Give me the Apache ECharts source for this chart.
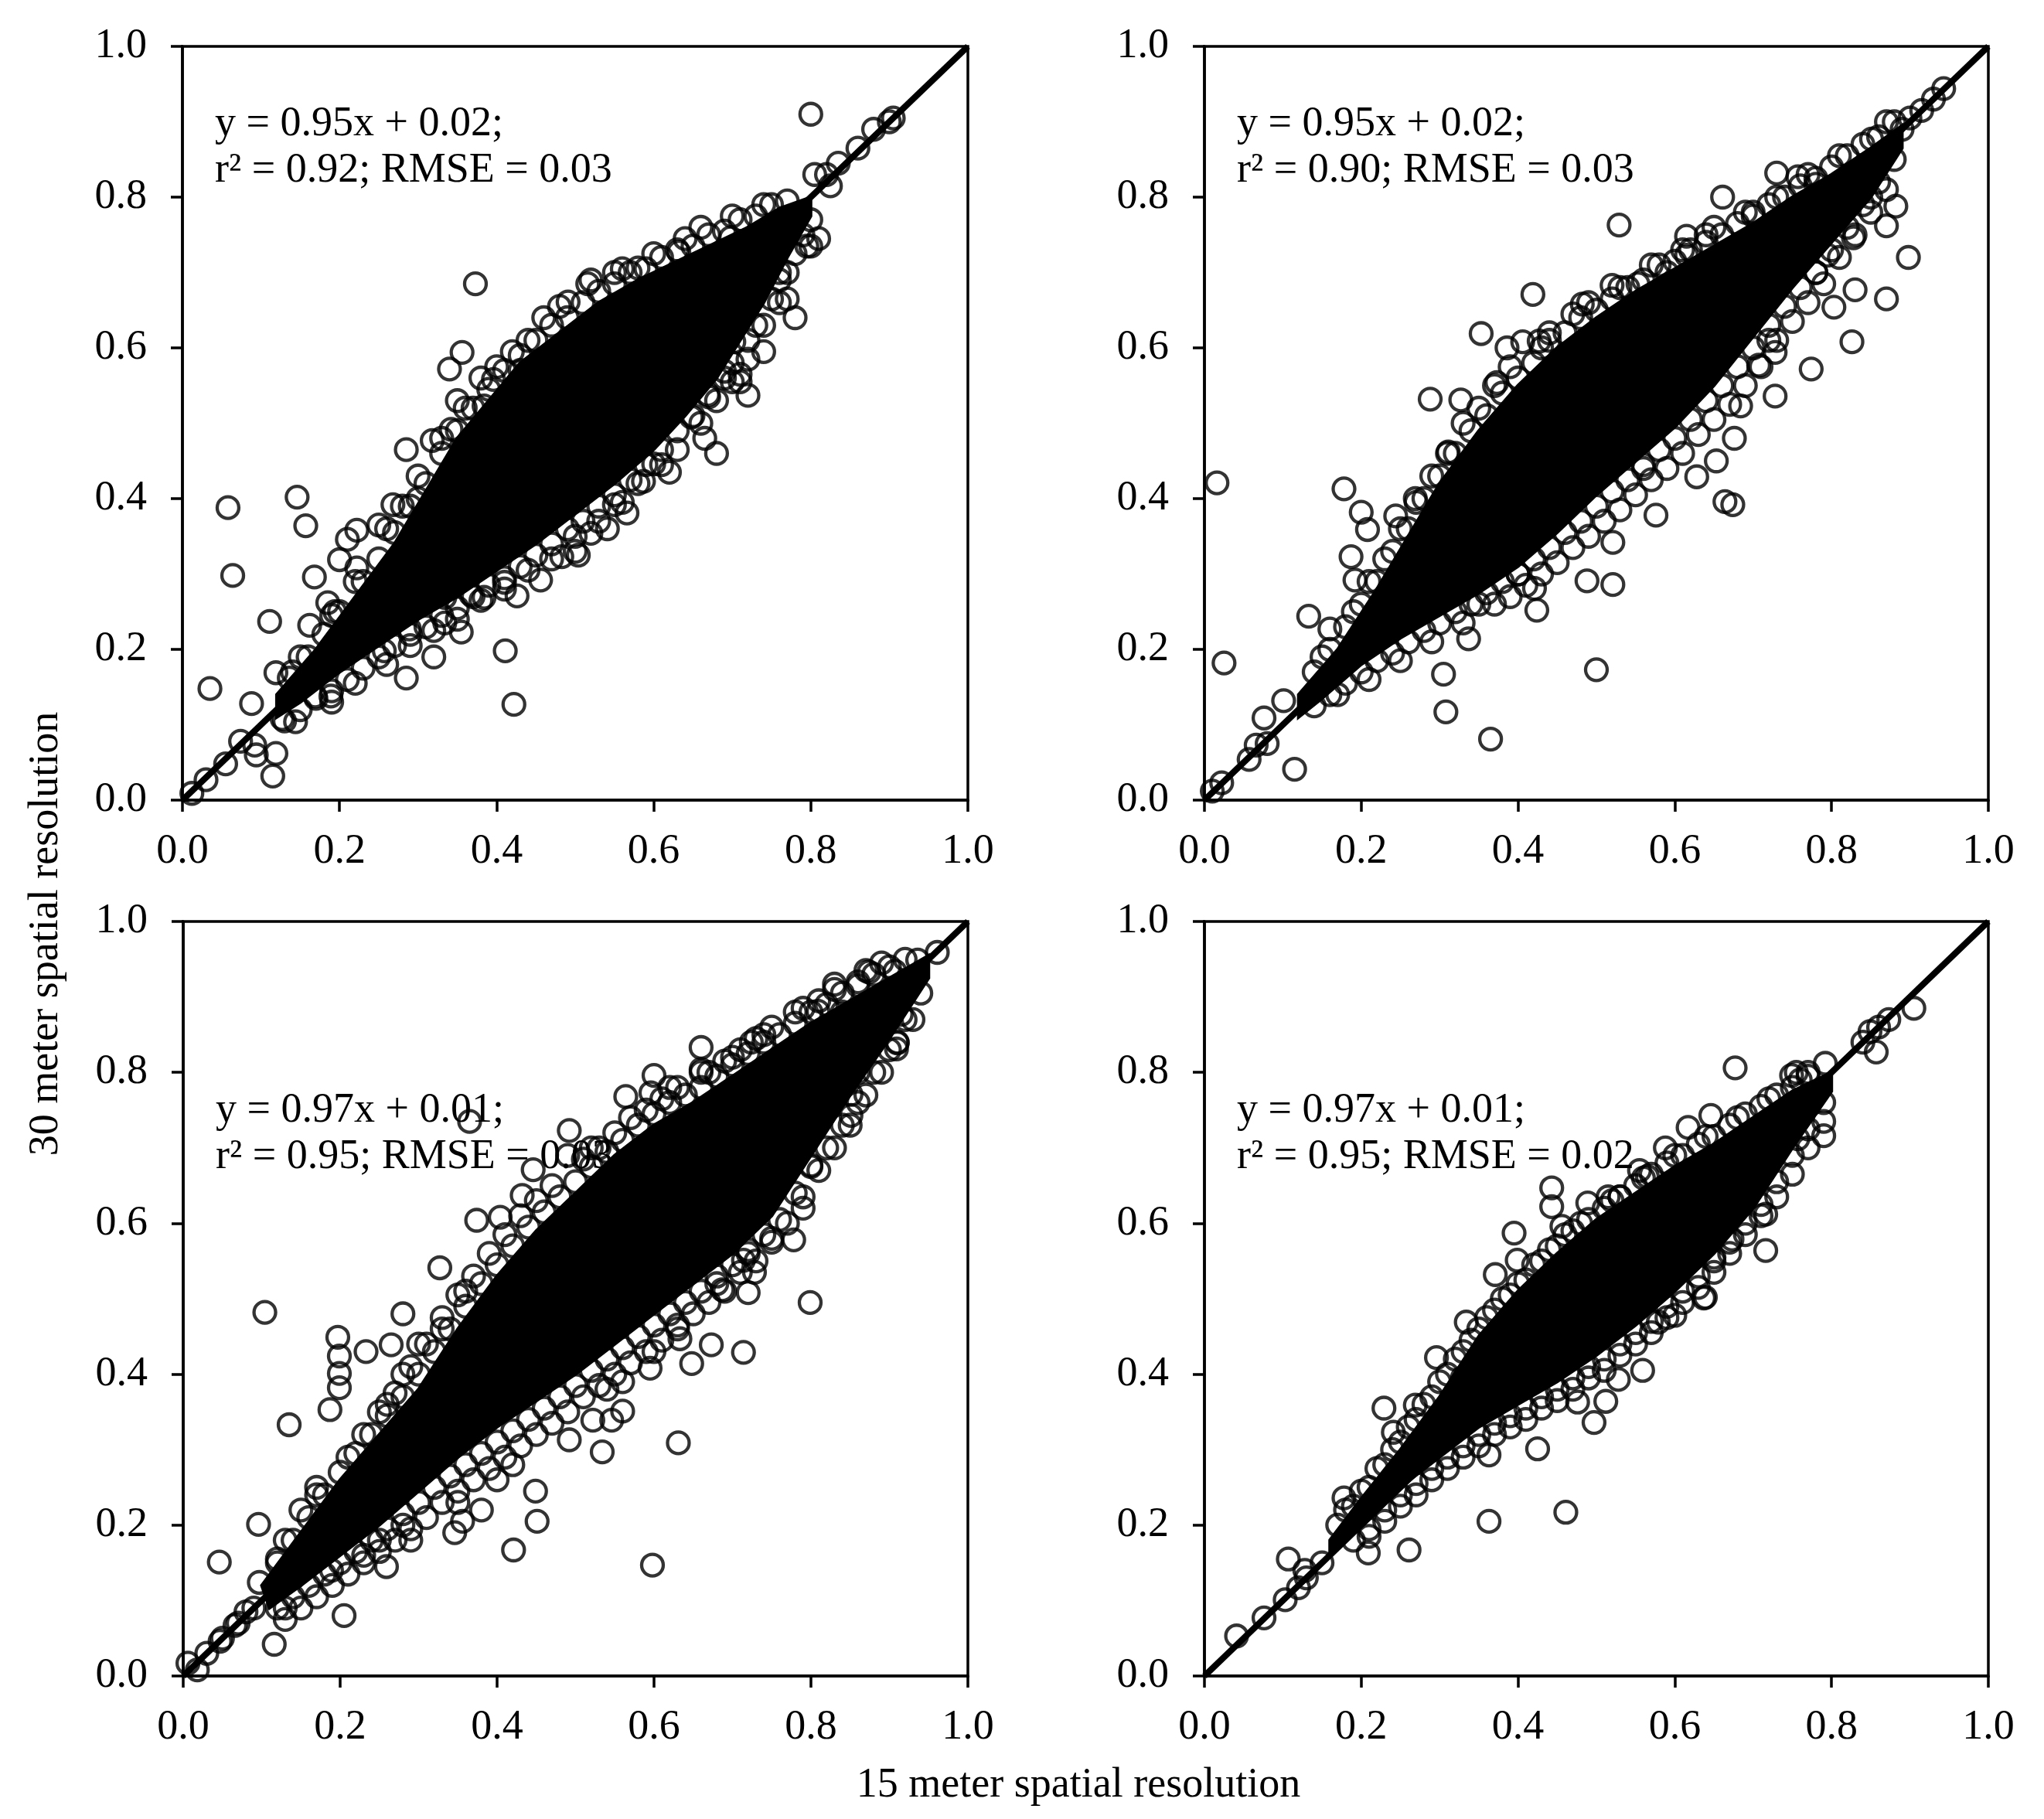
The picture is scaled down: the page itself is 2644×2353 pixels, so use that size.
<!DOCTYPE html>
<html lang="en">
<head>
<meta charset="UTF-8">
<title>15 m vs 30 m spatial resolution</title>
<script src="https://cdn.jsdelivr.net/npm/echarts@6/dist/echarts.min.js"></script>
<style>
  html, body { margin: 0; padding: 0; background: #fff; }
  #main { width: 2644px; height: 2353px; }
</style>
</head>
<body>
<div id="main"></div>
<script>
// axis ticks (same on every panel)
var tickValues = [0, 0.2, 0.4, 0.6, 0.8, 1.0];
var oneToOne = [[0, 0], [1, 1]];

// regression text per panel
var eqText = ['y = 0.95x + 0.02;', 'y = 0.95x + 0.02;', 'y = 0.97x + 0.01;', 'y = 0.97x + 0.01;'];
var r2Text = ['0.92', '0.90', '0.95', '0.95'];
var rmseText = ['0.03', '0.03', '0.03', '0.02'];

// solid (overplotted) core of each cloud, outline
var p1Core = [[0.12,0.14],[0.17,0.2],[0.22,0.27],[0.27,0.34],[0.31,0.41],[0.35,0.48],[0.39,0.53],[0.43,0.58],[0.48,0.62],[0.53,0.66],[0.58,0.69],[0.63,0.715],[0.68,0.74],[0.72,0.76],[0.76,0.785],[0.80,0.80],
  [0.80,0.775],[0.77,0.72],[0.74,0.66],[0.71,0.61],[0.68,0.56],[0.64,0.51],[0.60,0.465],[0.55,0.42],[0.50,0.38],[0.45,0.34],[0.40,0.305],[0.35,0.27],[0.30,0.24],[0.25,0.205],[0.20,0.17],[0.15,0.13],[0.12,0.11]];
var p2Core = [[0.12,0.14],[0.17,0.2],[0.22,0.28],[0.26,0.35],[0.30,0.42],[0.35,0.49],[0.40,0.55],[0.45,0.60],[0.50,0.64],[0.55,0.675],[0.60,0.705],[0.65,0.735],[0.70,0.765],[0.75,0.80],[0.80,0.83],[0.85,0.865],[0.89,0.895],
  [0.89,0.865],[0.85,0.80],[0.80,0.74],[0.75,0.68],[0.70,0.615],[0.65,0.55],[0.60,0.495],[0.55,0.45],[0.50,0.405],[0.45,0.355],[0.40,0.31],[0.35,0.275],[0.30,0.245],[0.25,0.215],[0.20,0.18],[0.15,0.135],[0.12,0.11]];
var p3Core = [[0.10,0.12],[0.15,0.19],[0.20,0.26],[0.25,0.32],[0.30,0.38],[0.35,0.46],[0.40,0.53],[0.45,0.59],[0.50,0.64],[0.55,0.69],[0.60,0.73],[0.65,0.76],[0.70,0.795],[0.75,0.83],[0.80,0.865],[0.85,0.895],[0.90,0.925],[0.95,0.955],
  [0.95,0.925],[0.90,0.845],[0.85,0.77],[0.80,0.69],[0.75,0.61],[0.70,0.56],[0.65,0.52],[0.60,0.48],[0.55,0.44],[0.50,0.40],[0.45,0.365],[0.40,0.33],[0.35,0.29],[0.30,0.245],[0.25,0.2],[0.20,0.16],[0.15,0.12],[0.11,0.09]];
var p4Core = [[0.16,0.18],[0.20,0.235],[0.25,0.30],[0.30,0.37],[0.35,0.45],[0.40,0.51],[0.45,0.56],[0.50,0.605],[0.55,0.64],[0.60,0.675],[0.65,0.705],[0.70,0.74],[0.75,0.775],[0.80,0.80],
  [0.80,0.775],[0.75,0.70],[0.70,0.62],[0.65,0.56],[0.60,0.51],[0.55,0.465],[0.50,0.425],[0.45,0.39],[0.40,0.36],[0.35,0.33],[0.30,0.29],[0.25,0.25],[0.20,0.2],[0.16,0.165]];

// individual circles: outliers
var p1Points = [[0.80,0.91],[0.90,0.90],[0.88,0.89],[0.905,0.905],[0.86,0.865],[0.835,0.845],[0.82,0.83],[0.805,0.83],[0.825,0.815],[0.81,0.745],[0.795,0.735],[0.80,0.77],[0.76,0.70],[0.77,0.665],[0.78,0.64],[0.74,0.595],[0.71,0.565],[0.71,0.555],[0.72,0.537],[0.68,0.46],[0.665,0.48],
  [0.373,0.685],[0.356,0.594],[0.34,0.572],[0.42,0.595],[0.285,0.465],[0.058,0.388],[0.146,0.402],[0.157,0.364],[0.064,0.298],[0.168,0.296],[0.111,0.237],[0.162,0.232],[0.035,0.148],[0.088,0.128],[0.119,0.062],[0.115,0.032],
  [0.012,0.009],[0.03,0.027],[0.055,0.048],[0.074,0.078],[0.094,0.06],[0.092,0.073],[0.411,0.198],[0.422,0.127],[0.285,0.162],[0.32,0.19],[0.257,0.198],[0.334,0.235],[0.355,0.223],[0.289,0.227],[0.456,0.292],[0.426,0.271],[0.41,0.289],
  [0.566,0.381],[0.541,0.36],[0.504,0.325],[0.62,0.435],[0.587,0.423],[0.632,0.727],[0.58,0.706],[0.55,0.70],[0.516,0.685],[0.491,0.661],[0.698,0.746],[0.50,0.33],
  [0.21,0.346],[0.222,0.358],[0.25,0.365],[0.268,0.392],[0.30,0.40],[0.2,0.319],[0.222,0.308],[0.185,0.262],[0.194,0.25],[0.318,0.477],[0.342,0.492],[0.35,0.53],[0.396,0.558],[0.43,0.57],[0.384,0.523],
  [0.127,0.108],[0.144,0.104],[0.189,0.138],[0.169,0.138],[0.119,0.169],[0.136,0.162],
  [0.384,0.269],[0.367,0.273],[0.334,0.269],[0.483,0.323],[0.52,0.354],[0.55,0.392],[0.6,0.446],[0.648,0.508],[0.669,0.538],[0.69,0.569],[0.702,0.608]];
var p2Points = [[0.943,0.944],[0.87,0.90],[0.90,0.905],[0.915,0.915],[0.89,0.89],[0.851,0.877],[0.93,0.93],[0.73,0.832],[0.757,0.827],[0.78,0.817],[0.661,0.80],[0.529,0.763],[0.882,0.788],[0.87,0.762],[0.898,0.72],[0.87,0.665],[0.83,0.677],[0.803,0.654],[0.826,0.608],[0.774,0.572],[0.728,0.536],[0.728,0.594],[0.828,0.746],[0.795,0.723],
  [0.615,0.748],[0.615,0.723],[0.419,0.671],[0.353,0.619],[0.288,0.532],[0.327,0.531],[0.016,0.421],[0.178,0.413],[0.2,0.382],[0.208,0.359],[0.187,0.323],[0.192,0.292],[0.133,0.244],[0.16,0.227],[0.025,0.182],[0.101,0.132],[0.076,0.109],[0.115,0.041],[0.057,0.054],[0.01,0.012],[0.022,0.023],[0.066,0.073],[0.08,0.075],
  [0.305,0.167],[0.308,0.117],[0.365,0.081],[0.5,0.173],[0.337,0.214],[0.424,0.252],[0.421,0.281],[0.488,0.291],[0.521,0.286],[0.521,0.342],[0.576,0.378],[0.628,0.429],[0.653,0.45],[0.664,0.396],[0.674,0.392],[0.676,0.48],[0.684,0.523],[0.707,0.577],
  [0.59,0.70],[0.553,0.685],[0.52,0.683],[0.482,0.658],[0.386,0.60],[0.406,0.608],[0.427,0.609],[0.373,0.554],[0.311,0.462],[0.269,0.40],[0.244,0.377],
  [0.70,0.78],[0.64,0.75],[0.44,0.62],[0.35,0.26],[0.40,0.30],[0.56,0.44],[0.72,0.61],[0.78,0.70],[0.85,0.80]];
var p3Points = [[0.961,0.959],[0.936,0.949],[0.907,0.934],[0.83,0.917],[0.874,0.933],[0.86,0.92],[0.809,0.881],[0.909,0.831],[0.915,0.877],[0.66,0.833],[0.724,0.84],[0.6,0.796],[0.596,0.773],[0.564,0.768],[0.66,0.804],[0.365,0.735],[0.492,0.723],[0.446,0.671],[0.432,0.637],[0.374,0.604],[0.404,0.608],[0.327,0.541],
  [0.104,0.482],[0.28,0.48],[0.197,0.449],[0.199,0.424],[0.199,0.401],[0.199,0.382],[0.233,0.43],[0.265,0.439],[0.187,0.353],[0.135,0.333],[0.096,0.201],[0.046,0.151],[0.116,0.042],[0.205,0.08],[0.259,0.145],[0.421,0.167],[0.598,0.147],[0.451,0.205],[0.449,0.245],[0.346,0.19],[0.356,0.205],
  [0.492,0.313],[0.534,0.297],[0.631,0.309],[0.522,0.339],[0.546,0.339],[0.56,0.351],[0.648,0.414],[0.673,0.439],[0.633,0.447],[0.714,0.429],[0.799,0.495],[0.714,0.551],[0.728,0.535],[0.72,0.508],[0.687,0.512],[0.778,0.578],[0.595,0.408],[0.79,0.62],[0.80,0.677],[0.86,0.80],[0.851,0.771],[0.851,0.743],[0.91,0.839],
  [0.006,0.017],[0.018,0.008],[0.047,0.046],[0.066,0.067],[0.097,0.124],[0.13,0.09],[0.189,0.14],[0.08,0.085],[0.12,0.155],[0.14,0.13],[0.03,0.03],[0.05,0.05],[0.07,0.07],[0.09,0.09],
  [0.49,0.69],[0.52,0.70],[0.57,0.74],[0.36,0.51],[0.33,0.46],[0.30,0.44],[0.28,0.40],[0.26,0.36],[0.17,0.25],[0.15,0.22],
  [0.25,0.18],[0.23,0.16],[0.28,0.2],[0.29,0.18],[0.35,0.23],[0.38,0.22],[0.40,0.26],[0.42,0.28],[0.54,0.38],[0.56,0.39],[0.60,0.43],[0.63,0.46],[0.68,0.52],[0.72,0.56],[0.75,0.58],
  [0.84,0.88],[0.78,0.88],[0.74,0.85],[0.70,0.82],[0.66,0.80],[0.62,0.78]];
var p4Points = [[0.905,0.885],[0.857,0.827],[0.873,0.87],[0.849,0.854],[0.86,0.86],[0.84,0.84],[0.677,0.806],[0.749,0.796],[0.755,0.80],[0.646,0.743],[0.79,0.716],[0.716,0.564],[0.716,0.612],[0.639,0.502],[0.673,0.579],
  [0.443,0.647],[0.443,0.622],[0.489,0.627],[0.456,0.596],[0.515,0.635],[0.395,0.587],[0.399,0.551],[0.371,0.532],[0.334,0.469],[0.296,0.422],[0.329,0.395],[0.229,0.355],[0.241,0.323],[0.269,0.359],[0.178,0.236],
  [0.107,0.155],[0.128,0.14],[0.12,0.117],[0.103,0.101],[0.076,0.077],[0.041,0.053],[0.209,0.163],[0.261,0.167],[0.363,0.205],[0.461,0.217],[0.425,0.301],[0.363,0.293],[0.497,0.336],[0.512,0.364],[0.476,0.363],[0.559,0.405],[0.528,0.393],
  [0.6,0.478],[0.637,0.501],[0.579,0.469],[0.65,0.555],[0.757,0.712],[0.617,0.727],[0.588,0.70],[0.565,0.662],[0.53,0.635],[0.555,0.67],[0.792,0.812],[0.77,0.80],[0.13,0.13],[0.15,0.15]];

// circles along the rim of each cloud (inner rim up, inner rim down, outer rim up, outer rim down)
var p1Rim = [[0.14,0.17],[0.16,0.19],[0.18,0.22],[0.20,0.25],[0.23,0.29],[0.25,0.32],[0.27,0.355],[0.29,0.39],[0.31,0.42],[0.33,0.46],[0.35,0.49],[0.37,0.52],[0.39,0.545],[0.41,0.57],[0.43,0.59],[0.45,0.61],[0.47,0.63],[0.49,0.64],[0.51,0.66],[0.53,0.675],[0.55,0.685],[0.57,0.70],[0.59,0.705],[0.61,0.72],[0.63,0.73],[0.65,0.735],[0.67,0.75],[0.69,0.755],[0.71,0.77],[0.73,0.775],[0.75,0.79],[0.77,0.795],
  [0.79,0.75],[0.78,0.725],[0.76,0.69],[0.75,0.665],[0.73,0.63],[0.72,0.61],[0.70,0.58],[0.69,0.56],[0.67,0.535],[0.65,0.51],[0.63,0.49],[0.61,0.465],[0.59,0.445],[0.57,0.425],[0.55,0.405],[0.53,0.39],[0.51,0.37],[0.49,0.36],[0.47,0.34],[0.45,0.325],[0.43,0.31],[0.41,0.295],[0.39,0.285],[0.37,0.27],[0.35,0.255],[0.33,0.245],[0.31,0.23],[0.29,0.22],[0.27,0.205],[0.25,0.19],[0.23,0.175],[0.21,0.16],[0.19,0.145],[0.17,0.135],[0.15,0.12],[0.13,0.105],
  [0.15,0.19],[0.19,0.245],[0.22,0.29],[0.26,0.36],[0.28,0.39],[0.30,0.43],[0.33,0.48],[0.36,0.52],[0.38,0.56],[0.40,0.575],[0.44,0.61],[0.46,0.64],[0.48,0.655],[0.52,0.69],[0.56,0.705],[0.60,0.725],[0.64,0.745],[0.66,0.76],[0.70,0.775],[0.74,0.79],
  [0.80,0.735],[0.77,0.70],[0.76,0.66],[0.74,0.63],[0.72,0.585],[0.70,0.555],[0.68,0.53],[0.66,0.50],[0.63,0.465],[0.61,0.445],[0.58,0.42],[0.56,0.395],[0.53,0.37],[0.50,0.35],[0.47,0.32],[0.44,0.305],[0.41,0.28],[0.38,0.265],[0.35,0.24],[0.32,0.225],[0.29,0.205],[0.26,0.18],[0.22,0.155],[0.19,0.13]];
var p2Rim = [[0.14,0.17],[0.16,0.2],[0.18,0.23],[0.20,0.26],[0.22,0.29],[0.24,0.33],[0.26,0.36],[0.28,0.40],[0.30,0.43],[0.32,0.46],[0.34,0.49],[0.36,0.51],[0.38,0.54],[0.40,0.56],[0.42,0.58],[0.44,0.61],[0.46,0.62],[0.48,0.64],[0.50,0.65],[0.52,0.665],[0.54,0.68],[0.56,0.69],[0.58,0.71],[0.60,0.715],[0.62,0.73],[0.64,0.74],[0.66,0.75],[0.68,0.765],[0.70,0.775],[0.72,0.79],[0.74,0.80],[0.76,0.815],[0.78,0.825],[0.80,0.84],[0.82,0.855],[0.84,0.87],[0.86,0.88],[0.88,0.90],
  [0.88,0.85],[0.86,0.82],[0.84,0.79],[0.82,0.76],[0.80,0.73],[0.78,0.70],[0.76,0.68],[0.74,0.655],[0.72,0.63],[0.70,0.60],[0.68,0.575],[0.66,0.55],[0.64,0.53],[0.62,0.505],[0.60,0.48],[0.58,0.465],[0.56,0.445],[0.54,0.425],[0.52,0.41],[0.50,0.39],[0.48,0.37],[0.46,0.355],[0.44,0.335],[0.42,0.32],[0.40,0.30],[0.38,0.29],[0.36,0.275],[0.34,0.26],[0.32,0.25],[0.30,0.235],[0.28,0.225],[0.26,0.21],[0.24,0.195],[0.22,0.185],[0.20,0.17],[0.18,0.155],[0.16,0.14],[0.14,0.125],
  [0.15,0.19],[0.19,0.25],[0.21,0.29],[0.23,0.32],[0.25,0.36],[0.27,0.395],[0.29,0.43],[0.31,0.46],[0.33,0.50],[0.35,0.52],[0.37,0.55],[0.39,0.575],[0.43,0.60],[0.47,0.645],[0.49,0.66],[0.53,0.68],[0.57,0.71],[0.61,0.73],[0.65,0.76],[0.69,0.78],[0.73,0.80],[0.77,0.83],[0.81,0.855],
  [0.87,0.81],[0.85,0.78],[0.83,0.75],[0.81,0.72],[0.79,0.685],[0.77,0.66],[0.75,0.635],[0.73,0.61],[0.71,0.575],[0.69,0.55],[0.67,0.525],[0.65,0.505],[0.63,0.485],[0.61,0.46],[0.59,0.44],[0.57,0.425],[0.55,0.405],[0.53,0.385],[0.51,0.37],[0.49,0.35],[0.47,0.335],[0.45,0.315],[0.43,0.30],[0.41,0.285],[0.39,0.27],[0.37,0.26],[0.33,0.235],[0.29,0.21],[0.25,0.185],[0.21,0.16],[0.17,0.14]];
var p3Rim = [[0.12,0.15],[0.14,0.18],[0.16,0.21],[0.18,0.24],[0.20,0.27],[0.22,0.295],[0.24,0.32],[0.26,0.345],[0.28,0.37],[0.30,0.40],[0.32,0.43],[0.34,0.46],[0.36,0.49],[0.38,0.52],[0.40,0.545],[0.42,0.57],[0.44,0.595],[0.46,0.615],[0.48,0.635],[0.50,0.655],[0.52,0.675],[0.54,0.695],[0.56,0.71],[0.58,0.73],[0.60,0.745],[0.62,0.76],[0.64,0.77],[0.66,0.78],[0.68,0.795],[0.70,0.81],[0.72,0.825],[0.74,0.84],[0.76,0.85],[0.78,0.865],[0.80,0.88],[0.82,0.89],[0.84,0.905],[0.86,0.915],[0.88,0.93],[0.90,0.94],[0.92,0.95],
  [0.94,0.905],[0.92,0.87],[0.90,0.83],[0.88,0.80],[0.86,0.76],[0.84,0.73],[0.82,0.70],[0.80,0.675],[0.78,0.64],[0.76,0.605],[0.74,0.585],[0.72,0.565],[0.70,0.545],[0.68,0.53],[0.66,0.51],[0.64,0.495],[0.62,0.48],[0.60,0.465],[0.58,0.45],[0.56,0.435],[0.54,0.42],[0.52,0.405],[0.50,0.385],[0.48,0.37],[0.46,0.355],[0.44,0.34],[0.42,0.325],[0.40,0.31],[0.38,0.295],[0.36,0.28],[0.34,0.265],[0.32,0.25],[0.30,0.23],[0.28,0.215],[0.26,0.195],[0.24,0.18],[0.22,0.165],[0.20,0.15],[0.18,0.135],[0.16,0.12],[0.14,0.105],[0.12,0.09],
  [0.13,0.18],[0.17,0.24],[0.21,0.29],[0.23,0.32],[0.25,0.35],[0.27,0.375],[0.29,0.41],[0.31,0.44],[0.33,0.475],[0.35,0.505],[0.37,0.53],[0.39,0.56],[0.41,0.585],[0.43,0.61],[0.45,0.63],[0.47,0.65],[0.51,0.685],[0.53,0.70],[0.55,0.72],[0.59,0.75],[0.61,0.765],[0.63,0.78],[0.67,0.80],[0.69,0.815],[0.71,0.83],[0.73,0.845],[0.75,0.86],[0.79,0.885],[0.81,0.895],[0.83,0.91],[0.87,0.935],[0.89,0.945],
  [0.93,0.87],[0.91,0.84],[0.89,0.80],[0.87,0.77],[0.85,0.73],[0.83,0.70],[0.81,0.67],[0.79,0.635],[0.77,0.60],[0.75,0.575],[0.73,0.55],[0.71,0.535],[0.69,0.51],[0.67,0.495],[0.65,0.48],[0.63,0.465],[0.61,0.445],[0.59,0.43],[0.57,0.415],[0.55,0.40],[0.53,0.385],[0.51,0.37],[0.49,0.35],[0.47,0.335],[0.45,0.32],[0.43,0.305],[0.41,0.29],[0.39,0.275],[0.37,0.26],[0.35,0.245],[0.33,0.23],[0.31,0.21],[0.29,0.195],[0.27,0.18],[0.25,0.165],[0.23,0.15],[0.21,0.135],[0.19,0.12],[0.17,0.105],[0.15,0.09],[0.13,0.075]];
var p4Rim = [[0.17,0.20],[0.19,0.225],[0.21,0.25],[0.23,0.28],[0.25,0.31],[0.27,0.34],[0.29,0.37],[0.31,0.40],[0.33,0.43],[0.35,0.46],[0.37,0.485],[0.39,0.505],[0.41,0.525],[0.43,0.55],[0.45,0.57],[0.47,0.59],[0.49,0.605],[0.51,0.62],[0.53,0.635],[0.55,0.65],[0.57,0.665],[0.59,0.68],[0.61,0.69],[0.63,0.705],[0.65,0.715],[0.67,0.73],[0.69,0.745],[0.71,0.755],[0.73,0.77],[0.75,0.78],[0.77,0.795],
  [0.79,0.76],[0.77,0.725],[0.75,0.69],[0.73,0.655],[0.71,0.625],[0.69,0.60],[0.67,0.575],[0.65,0.55],[0.63,0.53],[0.61,0.51],[0.59,0.49],[0.57,0.47],[0.55,0.455],[0.53,0.44],[0.51,0.42],[0.49,0.41],[0.47,0.395],[0.45,0.38],[0.43,0.37],[0.41,0.355],[0.39,0.345],[0.37,0.335],[0.35,0.32],[0.33,0.305],[0.31,0.29],[0.29,0.275],[0.27,0.255],[0.25,0.24],[0.23,0.22],[0.21,0.195],[0.19,0.18],
  [0.18,0.22],[0.20,0.245],[0.22,0.275],[0.24,0.30],[0.26,0.33],[0.28,0.36],[0.30,0.39],[0.32,0.42],[0.34,0.445],[0.36,0.475],[0.38,0.50],[0.40,0.52],[0.42,0.545],[0.44,0.565],[0.46,0.585],[0.48,0.60],[0.52,0.63],[0.56,0.66],[0.60,0.69],[0.64,0.715],[0.68,0.74],[0.72,0.765],[0.76,0.79],
  [0.79,0.735],[0.77,0.70],[0.75,0.665],[0.73,0.635],[0.71,0.61],[0.69,0.585],[0.67,0.56],[0.65,0.535],[0.63,0.515],[0.61,0.495],[0.59,0.475],[0.57,0.455],[0.55,0.44],[0.53,0.425],[0.51,0.405],[0.49,0.395],[0.47,0.38],[0.45,0.365],[0.43,0.355],[0.41,0.34],[0.39,0.33],[0.37,0.32],[0.35,0.305],[0.33,0.29],[0.31,0.275],[0.29,0.26],[0.27,0.24],[0.25,0.225],[0.23,0.205],[0.21,0.185]];

var cores = [p1Core, p2Core, p3Core, p4Core];
var points = [p1Points.concat(p1Rim), p2Points.concat(p2Rim), p3Points.concat(p3Rim), p4Points.concat(p4Rim)];

var FONT = 'Liberation Serif';
var grids = [
  { left: 236,  top: 60,   width: 1016, height: 975 },
  { left: 1558, top: 60,   width: 1014, height: 975 },
  { left: 237,  top: 1192, width: 1015, height: 976 },
  { left: 1558, top: 1192, width: 1014, height: 976 }
];

var myChart = echarts.init(document.getElementById('main'), null, { renderer: 'canvas' });

function makeAxis(i, isX) {
  return {
    gridIndex: i,
    type: 'value',
    min: tickValues[0],
    max: tickValues[tickValues.length - 1],
    interval: tickValues[1] - tickValues[0],
    axisLine: { show: true, onZero: false, lineStyle: { color: '#000', width: 3.5 } },
    axisTick: { show: true, inside: false, length: 15, lineStyle: { color: '#000', width: 3.5 } },
    splitLine: { show: false },
    axisLabel: {
      margin: isX ? 40 : 46,
      color: '#000',
      fontFamily: FONT,
      fontSize: 54,
      formatter: function (v) { return v.toFixed(1); }
    }
  };
}

var series = [];
var graphics = [];
grids.forEach(function (g, i) {
  // dense core, where the circles merge into solid black
  series.push({
    type: 'custom',
    xAxisIndex: i, yAxisIndex: i,
    data: cores[i],
    encode: { x: 0, y: 1 },
    silent: true,
    z: 3,
    renderItem: function (params, api) {
      if (params.dataIndex !== 0) return null;
      var pts = cores[i].map(function (p) { return api.coord(p); });
      return { type: 'polygon', shape: { points: pts }, style: { fill: '#000', stroke: '#000', lineWidth: 4 } };
    }
  });
  // open circles
  series.push({
    type: 'scatter',
    xAxisIndex: i, yAxisIndex: i,
    data: points[i],
    symbol: 'circle',
    symbolSize: 28,
    z: 4,
    itemStyle: { color: 'rgba(0,0,0,0)', borderColor: '#000', borderWidth: 4.3 }
  });
  // 1:1 line
  series.push({
    type: 'line',
    xAxisIndex: i, yAxisIndex: i,
    data: oneToOne,
    symbol: 'none',
    z: 5,
    lineStyle: { color: '#000', width: 8 }
  });
  // regression text
  var tx = g.left + 42;
  var ty = i < 2 ? g.top + 101 : g.top + 245;
  graphics.push({ type: 'text', x: tx, y: ty, z: 0,
    style: { text: eqText[i], fill: '#000', font: '54px "' + FONT + '"', textAlign: 'left', textVerticalAlign: 'middle' } });
  graphics.push({ type: 'text', x: tx, y: ty + 60, z: 0,
    style: { text: 'r\u00B2 = ' + r2Text[i] + '; RMSE = ' + rmseText[i], fill: '#000', font: '54px "' + FONT + '"', textAlign: 'left', textVerticalAlign: 'middle' } });
});

graphics.push({ type: 'text', x: 60, y: 1208, rotation: Math.PI / 2, z: 0,
  style: { text: '30 meter spatial resolution', fill: '#000', font: '54px "' + FONT + '"', textAlign: 'center', textVerticalAlign: 'middle' } });
graphics.push({ type: 'text', x: 1395, y: 2310, z: 0,
  style: { text: '15 meter spatial resolution', fill: '#000', font: '54px "' + FONT + '"', textAlign: 'center', textVerticalAlign: 'middle' } });

var option = {
  backgroundColor: '#fff',
  animation: false,
  grid: grids.map(function (g) {
    return { left: g.left, top: g.top, width: g.width, height: g.height, show: true, borderColor: '#000', borderWidth: 3.5, backgroundColor: 'transparent' };
  }),
  xAxis: grids.map(function (g, i) { return makeAxis(i, true); }),
  yAxis: grids.map(function (g, i) { return makeAxis(i, false); }),
  graphic: { elements: graphics },
  series: series
};

myChart.setOption(option);
</script>
</body>
</html>
